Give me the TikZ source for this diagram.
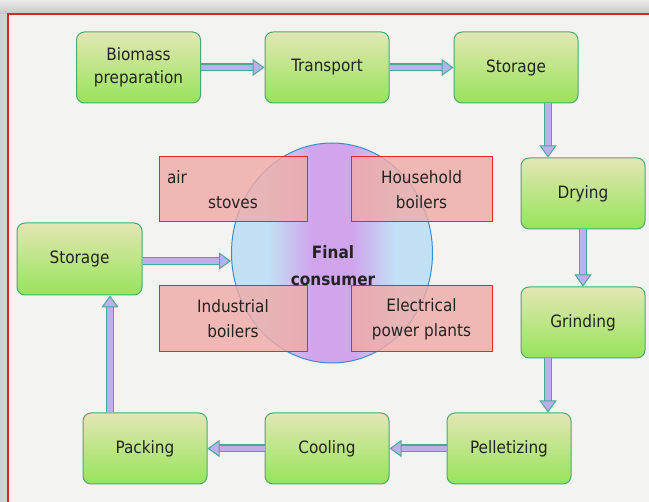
\documentclass[tikz,border=0pt]{standalone}
\usepackage{fontspec}
\setmainfont{DejaVu Sans Condensed}
\usetikzlibrary{arrows.meta,shapes.geometric}
\definecolor{gborder}{RGB}{70,170,120}
\definecolor{gtop}{RGB}{228,230,180}
\definecolor{gbot}{RGB}{150,228,90}
\definecolor{rfill}{RGB}{240,170,165}
\definecolor{rborder}{RGB}{228,40,50}
\definecolor{cblue}{RGB}{195,225,245}
\definecolor{cpurple}{RGB}{208,165,236}
\definecolor{cborder}{RGB}{60,140,210}
\definecolor{aedge}{RGB}{70,170,150}
\definecolor{afill}{RGB}{188,175,238}
\definecolor{txt}{RGB}{35,35,35}
\definecolor{panel}{RGB}{243,243,240}
\definecolor{frame}{RGB}{215,40,40}
\pgfdeclarehorizontalshading{consumershade}{100bp}{color(0bp)=(cblue); color(34bp)=(cblue); color(45bp)=(cpurple); color(55bp)=(cpurple); color(66bp)=(cblue); color(100bp)=(cblue)}
\newcommand\myflow[2]{%
  \draw[line width=8pt, draw=aedge, shorten >=10pt] #1 -- #2;
  \draw[line width=5.6pt, draw=afill, shorten >=10pt] #1 -- #2;
  \draw[draw=afill, line width=0.5pt, -{Triangle[length=12pt,width=17pt,color=aedge,fill=afill,line width=1pt]}] #1 -- #2;
}
\tikzset{
  stepbox/.style={rectangle, rounded corners=8pt, draw=gborder, line width=1pt,
    top color=gtop, bottom color=gbot, minimum width=124pt, minimum height=71pt,
    inner sep=0pt, align=center, text=txt, font=\fontsize{17}{23}\selectfont},
  usebox/.style={rectangle, draw=rborder, line width=1pt, fill=rfill, fill opacity=0.8,
    text opacity=1, minimum height=65pt, inner sep=0pt, align=center, text=txt,
    font=\fontsize{17}{25}\selectfont},
}
\begin{document}
\begin{tikzpicture}[x=1pt,y=-1pt]
\useasboundingbox (0,0) rectangle (649,502);
\clip (0,0) rectangle (649,502);
\fill[gray!35] (0,0) rectangle (649,502);
\shade[top color=gray!15, bottom color=gray!45] (0,0) rectangle (649,14);
\filldraw[fill=panel, draw=frame, line width=2pt] (8,14) rectangle (700,560);

% final consumer
\node[ellipse, draw=cborder, line width=1pt, shading=consumershade,
  minimum width=201pt, minimum height=220pt, inner sep=0pt] (fc) at (332,253) {};

% usage boxes
\node[usebox, minimum width=148pt] (as) at (233,189.5) {\makebox[132pt][l]{air}\\stoves};
\node[usebox, minimum width=141pt] (hb) at (421.5,189.5) {Household\\boilers};
\node[usebox, minimum width=148pt, minimum height=66pt] (ib) at (233,319) {Industrial\\boilers};
\node[usebox, minimum width=141pt, minimum height=66pt] (ep) at (421.5,319) {Electrical\\power plants};

\node[text=txt, font=\fontsize{17}{27}\selectfont\bfseries, align=center] (fct) at (333,266) {Final\\consumer};

% process boxes
\node[stepbox] (bp) at (138.5,67.5) {Biomass\\preparation};
\node[stepbox] (tr) at (327,67.5) {Transport};
\node[stepbox] (st1) at (516,67.5) {Storage};
\node[stepbox] (dr) at (583,193.5) {Drying};
\node[stepbox] (gr) at (583,322.5) {Grinding};
\node[stepbox] (pe) at (509,448.5) {Pelletizing};
\node[stepbox] (co) at (327,448.5) {Cooling};
\node[stepbox] (pa) at (145,448.5) {Packing};
\node[stepbox, minimum width=125pt, minimum height=72pt] (st2) at (79.5,259) {Storage};

% arrows
\myflow{(bp.east)}{(tr.west)}
\myflow{(tr.east)}{(st1.west)}
\myflow{([xshift=32pt]st1.south)}{([xshift=32pt]st1.south |- dr.north)}
\myflow{(dr.south)}{(gr.north)}
\myflow{([xshift=39pt]pe.north |- gr.south)}{([xshift=39pt]pe.north)}
\myflow{(pe.west)}{(co.east)}
\myflow{(co.west)}{(pa.east)}
\myflow{([xshift=-35pt]pa.north)}{([xshift=-35pt]pa.north |- st2.south)}
\myflow{([yshift=-2pt]st2.east)}{([yshift=-2pt]st2.east -| fc.west)}
\end{tikzpicture}
\end{document}
